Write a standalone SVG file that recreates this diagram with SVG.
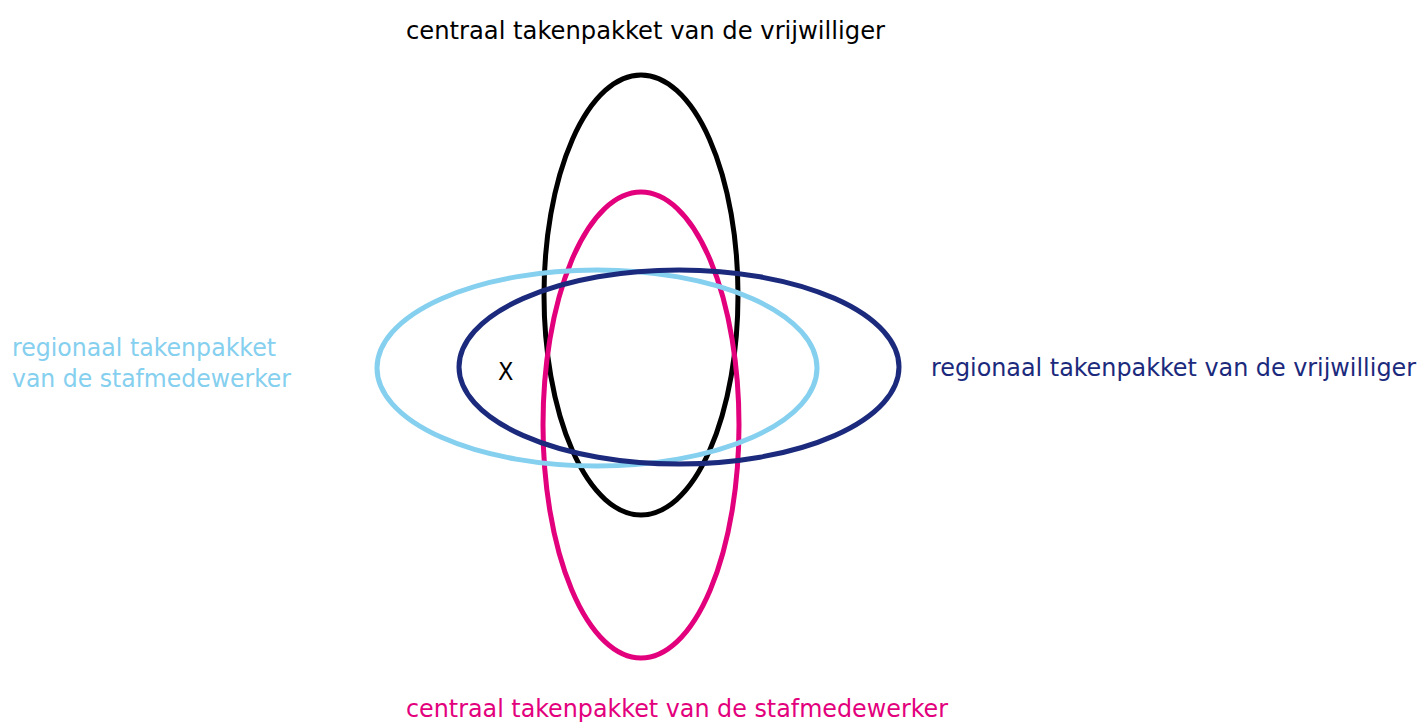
<svg xmlns="http://www.w3.org/2000/svg" width="1427" height="722" viewBox="0 0 1427 722">
  <style>
    .ring { fill: none; stroke-width: 5; }
    .lbl { font-family: "DejaVu Sans Condensed", "DejaVu Sans", "Liberation Sans", sans-serif; font-size: 25px; }
  </style>
  <rect width="1427" height="722" fill="#ffffff"/>

  <g id="central-volunteer">
    <ellipse class="ring" cx="641" cy="295" rx="97" ry="220" stroke="#000000"/>
    <text class="lbl" x="406" y="39" textLength="479" lengthAdjust="spacingAndGlyphs" fill="#000000">centraal takenpakket van de vrijwilliger</text>
  </g>

  <g id="central-staff">
    <ellipse class="ring" cx="641" cy="425" rx="98" ry="233" stroke="#e3007d"/>
    <text class="lbl" x="406" y="717" textLength="542" lengthAdjust="spacingAndGlyphs" fill="#e3007d">centraal takenpakket van de stafmedewerker</text>
  </g>

  <g id="regional-staff">
    <ellipse class="ring" cx="597" cy="368" rx="220" ry="98" stroke="#85cfef"/>
    <text class="lbl" x="12" y="356" textLength="264" lengthAdjust="spacingAndGlyphs" fill="#85cfef">regionaal takenpakket</text>
    <text class="lbl" x="12" y="387" textLength="279" lengthAdjust="spacingAndGlyphs" fill="#85cfef">van de stafmedewerker</text>
  </g>

  <g id="regional-volunteer">
    <ellipse class="ring" cx="679" cy="367" rx="220" ry="97" stroke="#1b2a7c"/>
    <text class="lbl" x="931" y="376" textLength="485" lengthAdjust="spacingAndGlyphs" fill="#1b2a7c">regionaal takenpakket van de vrijwilliger</text>
  </g>

  <g id="marker-x">
    <text class="lbl" x="498" y="380" font-size="23" fill="#000000">X</text>
  </g>

  <g id="connectors"/>
</svg>
